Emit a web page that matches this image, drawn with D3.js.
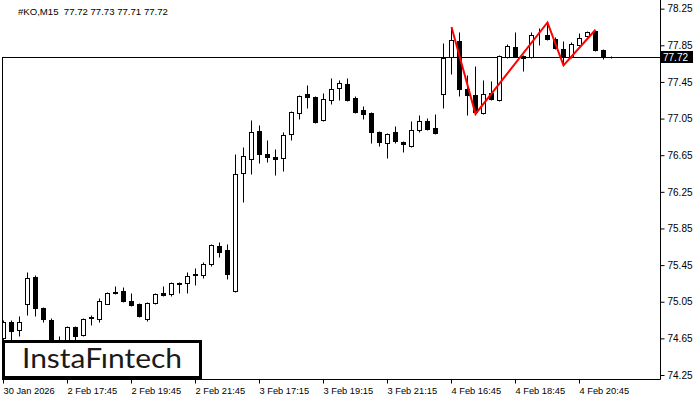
<!DOCTYPE html>
<html><head><meta charset="utf-8">
<script src="https://cdn.jsdelivr.net/npm/d3@7"></script>
<style>body{margin:0;background:#fff}svg{display:block}text{font-family:"Liberation Sans",Arial,sans-serif}</style>
</head><body><svg id="c" width="700" height="400"></svg>
<script>
// ---- data (#KO, M15) ----
const openP  = [74.65,74.83,74.74,75.02,75.32,74.98,74.85,74.50,74.55,74.77,74.69,74.87,74.86,75.03,75.16,75.17,75.06,75.03,74.86,75.04,75.14,75.13,75.26,75.25,75.34,75.34,75.46,75.66,75.61,75.17,76.46,76.61,76.91,76.66,76.63,76.62,76.88,77.11,77.32,77.29,77.03,77.25,77.38,77.43,77.27,77.14,77.11,76.90,76.78,76.90,76.79,76.75,76.92,77.02,76.95,77.32,77.72,77.90,77.37,77.31,77.11,77.33,77.25,77.72,77.83,77.73,77.72,77.96,77.96,77.92,77.81,77.72,77.85,77.95,78.01,77.80,77.72];
const highP  = [74.85,74.85,74.89,75.38,75.34,74.99,74.87,74.68,74.78,74.79,74.87,74.90,75.09,75.16,75.22,75.21,75.15,75.04,75.05,75.15,75.22,75.27,75.27,75.37,75.42,75.48,75.68,75.70,75.68,76.66,76.74,77.03,76.98,76.82,76.72,76.90,77.13,77.31,77.42,77.30,77.33,77.49,77.47,77.49,77.30,77.19,77.12,76.91,76.89,76.97,76.81,77.02,77.09,77.06,77.10,77.87,78.05,78.00,77.53,77.62,77.47,77.46,77.74,77.86,78.00,77.74,78.00,78.04,78.10,77.94,77.90,77.89,77.98,78.01,78.02,77.81,77.73];
const lowP   = [74.63,74.63,74.68,74.91,74.89,74.83,74.44,74.42,74.52,74.63,74.68,74.80,74.83,75.02,75.13,75.05,75.00,74.88,74.84,75.03,75.11,75.11,75.14,75.14,75.23,75.31,75.44,75.54,75.30,75.16,76.14,76.44,76.57,76.58,76.43,76.48,76.82,77.04,77.17,77.00,77.02,77.21,77.25,77.24,77.11,77.04,76.78,76.75,76.62,76.78,76.68,76.74,76.90,76.93,76.88,77.17,77.54,77.30,77.09,77.10,77.10,77.25,77.24,77.71,77.72,77.57,77.71,77.85,77.91,77.81,77.63,77.71,77.84,77.94,77.79,77.70,77.71];
const closeP = [74.83,74.73,74.83,75.31,74.98,74.86,74.50,74.55,74.77,74.68,74.86,74.88,75.06,75.14,75.14,75.06,75.01,74.89,75.04,75.13,75.12,75.26,75.24,75.33,75.35,75.46,75.67,75.59,75.35,76.45,76.64,76.90,76.66,76.63,76.61,76.87,77.12,77.30,77.29,77.01,77.26,77.37,77.44,77.25,77.12,77.10,76.90,76.79,76.88,76.80,76.77,76.92,77.02,76.94,76.89,77.71,77.91,77.37,77.31,77.12,77.32,77.26,77.73,77.84,77.73,77.71,77.96,77.96,77.92,77.82,77.72,77.86,77.93,77.99,77.80,77.73,77.72];
const timeTickIndex  = [0, 8, 16, 24, 32, 40, 48, 56, 64, 72];
const timeTickLabels = ["30 Jan 2026","2 Feb 17:45","2 Feb 19:45","2 Feb 21:45","3 Feb 17:15","3 Feb 19:15","3 Feb 21:15","4 Feb 16:45","4 Feb 18:45","4 Feb 20:45"];
const priceTicks = [74.25,74.65,75.05,75.45,75.85,76.25,76.65,77.05,77.45,77.85,78.25];
const patternIndex = [56, 59, 68, 70, 74];
const patternPrice = [78.05, 77.10, 78.10, 77.63, 78.02];
const currentPrice = 77.72;
const titleText = "#KO,M15  77.72 77.73 77.71 77.72";

// ---- scales ----
const svg = d3.select('#c');
const x = d3.scaleLinear().domain([0, 1]).range([3.5, 11.5]);
const y = d3.scaleLinear().domain([74.25, 78.25]).range([375, 8.67]);
const ry = v => Math.round(y(v)) + 0.5;

const plotR = 660.5, plotB = 379.5;

svg.append('defs').append('clipPath').attr('id','clip')
  .append('rect').attr('x',2).attr('y',0).attr('width',658).attr('height',379);

// current price line
svg.append('line').attr('x1',2).attr('x2',plotR).attr('y1',ry(currentPrice)).attr('y2',ry(currentPrice))
  .attr('stroke','#000').attr('stroke-width',1);

// candles
const idx = d3.range(openP.length);
const g = svg.append('g').attr('clip-path','url(#clip)');
g.selectAll('line.wick').data(idx).join('line').attr('class','wick')
  .attr('x1', i => x(i)).attr('x2', i => x(i))
  .attr('y1', i => ry(highP[i])).attr('y2', i => ry(lowP[i]))
  .attr('stroke','#000').attr('stroke-width',1);
g.selectAll('rect.body').data(idx).join('rect').attr('class','body')
  .attr('x', i => x(i) - 2)
  .attr('width', 4)
  .attr('y', i => ry(Math.max(openP[i], closeP[i])))
  .attr('height', i => Math.max(0, ry(Math.min(openP[i], closeP[i])) - ry(Math.max(openP[i], closeP[i]))))
  .attr('fill', i => closeP[i] >= openP[i] ? '#fff' : '#000')
  .attr('stroke','#000').attr('stroke-width',1);

// pattern
svg.append('path')
  .attr('d', d3.line().x(i => x(patternIndex[i])).y(i => y(patternPrice[i]))(d3.range(patternIndex.length)))
  .attr('fill','none').attr('stroke','#ff0000').attr('stroke-width',2);

// frame
svg.append('line').attr('x1',plotR).attr('x2',plotR).attr('y1',0).attr('y2',plotB).attr('stroke','#000');
svg.append('line').attr('x1',2).attr('x2',plotR).attr('y1',plotB).attr('y2',plotB).attr('stroke','#000');
svg.append('line').attr('x1',2.5).attr('x2',2.5).attr('y1',ry(currentPrice)).attr('y2',plotB).attr('stroke','#000');

// y axis
const ya = svg.append('g').attr('transform',`translate(${plotR},0)`)
  .call(d3.axisRight(y).tickValues(priceTicks).tickSize(4).tickPadding(3).tickFormat(d3.format('.2f')));
ya.select('.domain').remove();
ya.selectAll('line').attr('stroke','#000');
ya.selectAll('text').attr('font-size',10).attr('fill','#000').style('font-family','"Liberation Sans",Arial,sans-serif');

// x axis
const xa = svg.append('g').attr('transform',`translate(-0.5,${plotB})`)
  .call(d3.axisBottom(x).tickValues(timeTickIndex).tickSize(4).tickPadding(4).tickFormat((d,i) => timeTickLabels[i]));
xa.select('.domain').remove();
xa.selectAll('line').attr('stroke','#000');
xa.selectAll('text').attr('font-size',9.3).attr('fill','#000').attr('text-anchor','start')
  .style('font-family','"Liberation Sans",Arial,sans-serif');

// current price label
svg.append('rect').attr('x',661).attr('y',ry(currentPrice)-6.5).attr('width',32).attr('height',12).attr('fill','#000');
svg.append('text').attr('x',663).attr('y',ry(currentPrice)+3.5).attr('font-size',10).attr('fill','#fff').text(currentPrice.toFixed(2));

// title
svg.append('text').attr('x',18).attr('y',14.5).attr('font-size',9.6).attr('fill','#000')
  .style('white-space','pre').text(titleText);

// logo
svg.append('rect').attr('x',3.5).attr('y',341.5).attr('width',197).attr('height',36)
  .attr('fill','#fff').attr('stroke','#000').attr('stroke-width',3);
svg.append('text').attr('x',22).attr('y',368).attr('font-size',27).attr('fill','#1a1a1a')
  .style('font-family','Lato, "Open Sans", sans-serif').attr('textLength',160).attr('lengthAdjust','spacingAndGlyphs')
  .text('InstaFıntech');
</script></body></html>
